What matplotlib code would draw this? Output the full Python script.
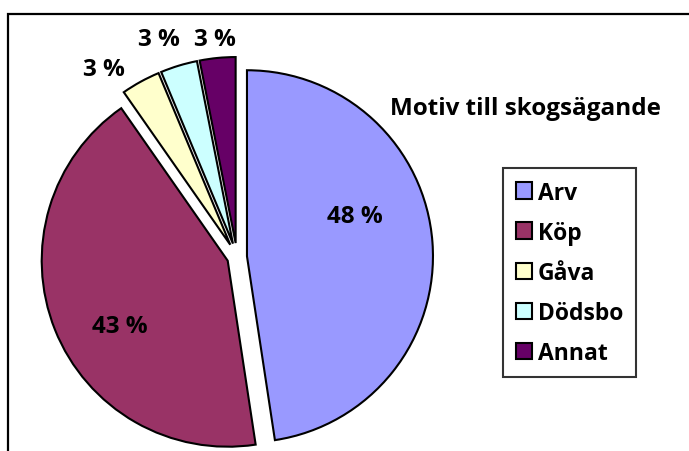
import matplotlib
matplotlib.use("Agg")
import matplotlib.pyplot as plt
from matplotlib.patches import Rectangle

categories = ["Arv", "Köp", "Gåva", "Dödsbo", "Annat"]
values = [47.6, 42.7, 3.4, 3.2, 3.1]
colors = ["#9999FF", "#993366", "#FFFFCC", "#CCFFFF", "#660066"]
title = "Motiv till skogsägande"

plt.rcParams['font.family'] = ['Open Sans', 'DejaVu Sans']
FS = 17.5
LFS = 16.5

W, H = 689, 452
fig = plt.figure(figsize=(W / 100, H / 100), dpi=100)
ax = fig.add_axes([0, 0, 1, 1])

cx, cy, r = 237, 194, 186
explode = [10, 10, 14, 14, 14]
wedges, _ = ax.pie(values, colors=colors, explode=explode, startangle=90,
                   counterclock=False, center=(cx, cy), radius=r,
                   wedgeprops=dict(edgecolor="black", linewidth=1.5))
ax.set_xlim(0, W)
ax.set_ylim(0, H)
ax.set_aspect("equal")
ax.axis("off")

label_pos = [(355, 217), (120, 327), (104, 70), (159, 40), (215, 40)]
for v, (x, y) in zip(values, label_pos):
    ax.text(x, H - y, f"{v:.0f} %", ha="center", va="center",
            fontsize=FS, fontweight="bold", color="black")

ax.text(525, H - 109, title, ha="center", va="center",
        fontsize=FS, fontweight="bold", color="black")

leg = ax.legend(wedges, categories, loc="upper left",
                bbox_to_anchor=(503 / W, 1 - 169 / H), bbox_transform=fig.transFigure,
                frameon=True, fancybox=False, edgecolor="black",
                prop=dict(size=LFS, weight="bold"),
                handlelength=0.72, handleheight=0.72, handletextpad=0.25,
                labelspacing=0.70, borderpad=0.55, borderaxespad=0)
leg.get_frame().set_linewidth(1.5)

fig.patches.append(Rectangle((8, -10), W + 10, H - 15 + 10, transform=None,
                             fill=False, edgecolor="black", linewidth=1.6))

fig.savefig("out.png", dpi=100)
